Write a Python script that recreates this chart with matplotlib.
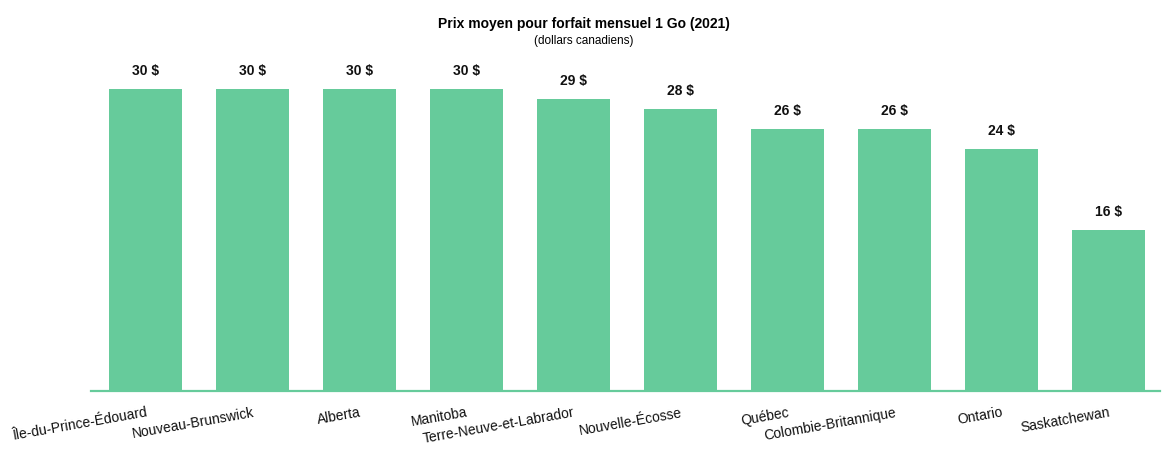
import matplotlib.pyplot as plt

provinces = [
    "Île-du-Prince-Édouard", "Nouveau-Brunswick", "Alberta", "Manitoba",
    "Terre-Neuve-et-Labrador", "Nouvelle-Écosse", "Québec",
    "Colombie-Britannique", "Ontario", "Saskatchewan",
]
prices = [30, 30, 30, 30, 29, 28, 26, 26, 24, 16]

green = "#66cb9b"
plt.rcParams['font.family'] = ['Liberation Sans', 'DejaVu Sans']

fig = plt.figure(figsize=(11.68, 4.55), dpi=100)
ax = fig.add_axes([91 / 1168, 64 / 455, (1160 - 91) / 1168, 391 / 455])

x = list(range(len(provinces)))
bars = ax.bar(x, prices, width=0.68, color=green, zorder=2)
ax.bar_label(bars, labels=[f"{v} $" for v in prices], padding=8,
             fontsize=10, fontweight="bold", color="#111111")

ax.set_xlim(-0.51, 9.48)
ax.set_ylim(0, 38.84)

for s in ["top", "right", "left"]:
    ax.spines[s].set_visible(False)
ax.spines["bottom"].set_color(green)
ax.spines["bottom"].set_linewidth(1.6)

ax.set_yticks([])
ax.set_xticks(x)
ax.set_xticklabels(provinces, rotation=10, ha="right", rotation_mode="anchor",
                   fontsize=10, color="#111111")
ax.tick_params(axis="x", length=0, pad=10.5)

fig.text(0.5, 1 - 24 / 455, "Prix moyen pour forfait mensuel 1 Go (2021)",
         ha="center", va="center", fontsize=10, fontweight="bold")
fig.text(0.5, 1 - 41 / 455, "(dollars canadiens)",
         ha="center", va="center", fontsize=8.5)

fig.savefig("out.png", dpi=100)
